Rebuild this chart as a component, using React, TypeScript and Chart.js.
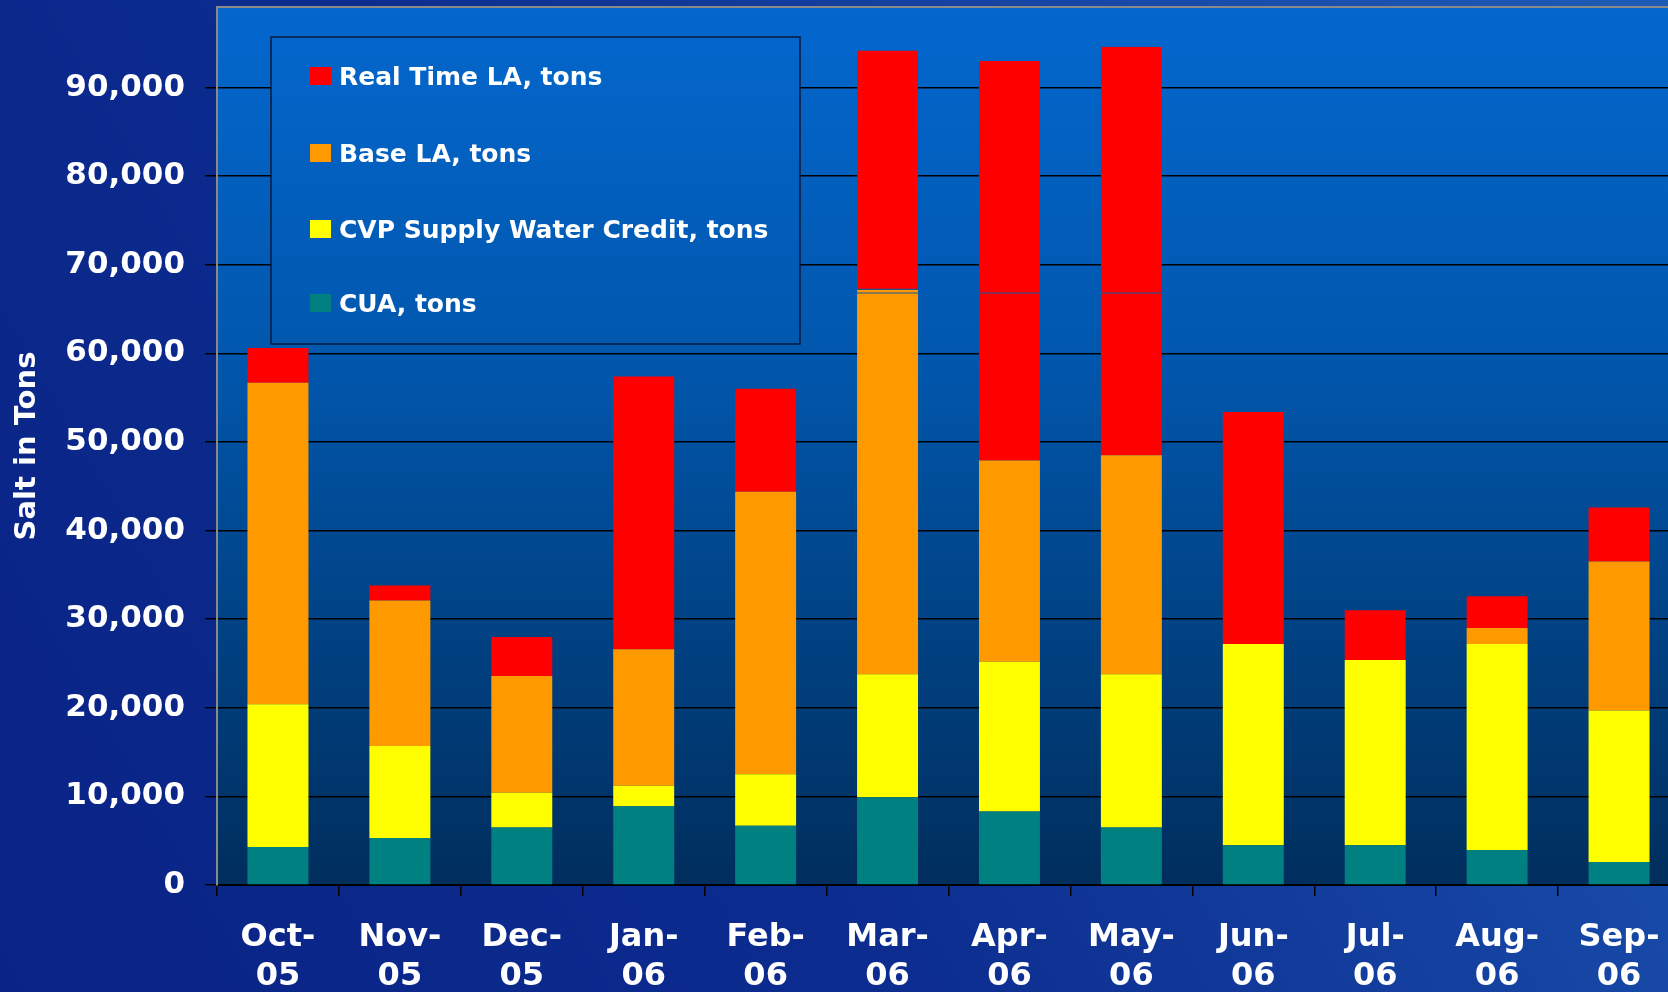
import React, { useEffect, useRef } from 'react';
import { Chart, registerables } from 'chart.js';

Chart.register(...registerables);

// ---- Data ----
const months: string[][] = [
  ['Oct-', '05'], ['Nov-', '05'], ['Dec-', '05'], ['Jan-', '06'], ['Feb-', '06'], ['Mar-', '06'],
  ['Apr-', '06'], ['May-', '06'], ['Jun-', '06'], ['Jul-', '06'], ['Aug-', '06'], ['Sep-', '06'],
];
const cuaTons = [4300, 5300, 6500, 8900, 6700, 9900, 8300, 6500, 4500, 4500, 3950, 2600];
const cvpCreditTons = [16100, 10400, 3900, 2300, 5800, 13900, 16900, 17300, 22700, 20900, 23250, 17100];
const baseLATons = [36300, 16400, 13200, 15400, 31900, 42950, 22700, 24700, 0, 0, 1800, 16800];
const realTimeLATons = [3900, 1700, 4400, 30800, 11600, 0, 18850, 18250, 26200, 5600, 3600, 6100];
// upper pieces of the Mar–May columns (drawn above a thin break line in the original)
const baseLAUpperTons = [null, null, null, null, null, 450, null, null, null, null, null, null];
const realTimeLAUpperTons = [null, null, null, null, null, 27000, 26250, 27850, null, null, null, null];

const yTickValues = [0, 10000, 20000, 30000, 40000, 50000, 60000, 70000, 80000, 90000];
const yMax = 99100;

const COLORS = {
  realTime: '#FF0000',
  base: '#FF9900',
  cvp: '#FFFF00',
  cua: '#008080',
};

const FONT = 'DejaVu Sans';

function plotGradient(ctx: CanvasRenderingContext2D, area: any) {
  const g = ctx.createLinearGradient(0, area.top, 0, area.bottom);
  g.addColorStop(0, '#0467CE');
  g.addColorStop(0.4, '#0157AD');
  g.addColorStop(1, '#002E5D');
  return g;
}

const plotBgPlugin = {
  id: 'plotBg',
  beforeDraw(chart: any) {
    const { ctx, chartArea } = chart;
    ctx.save();
    ctx.fillStyle = plotGradient(ctx, chartArea);
    ctx.fillRect(chartArea.left, chartArea.top, chartArea.right - chartArea.left, chartArea.bottom - chartArea.top);
    ctx.restore();
  },
  afterDraw(chart: any) {
    const { ctx, chartArea } = chart;
    ctx.save();
    ctx.strokeStyle = '#8a8a8a';
    ctx.lineWidth = 2;
    ctx.beginPath();
    ctx.moveTo(chartArea.left, chartArea.top);
    ctx.lineTo(chartArea.right, chartArea.top);
    ctx.stroke();
    ctx.restore();
  },
};

const boxLegendPlugin = {
  id: 'boxLegend',
  afterDraw(chart: any) {
    const { ctx, chartArea } = chart;
    const order = [3, 2, 1, 0];
    const boxX = 271, boxY = 37, boxW = 529, boxH = 307;
    ctx.save();
    ctx.fillStyle = plotGradient(ctx, chartArea);
    ctx.fillRect(boxX, boxY, boxW, boxH);
    ctx.strokeStyle = '#0a1838';
    ctx.lineWidth = 1.5;
    ctx.strokeRect(boxX, boxY, boxW, boxH);
    ctx.font = `bold 25px "${FONT}"`;
    ctx.textBaseline = 'alphabetic';
    ctx.textAlign = 'left';
    const baselines = [85, 162, 238, 312];
    order.forEach((di, i) => {
      const ds = chart.data.datasets[di];
      const b = baselines[i];
      ctx.fillStyle = ds.backgroundColor;
      ctx.fillRect(310, b - 18, 21, 18);
      ctx.fillStyle = '#FFFFFF';
      ctx.fillText(ds.label, 339, b);
    });
    ctx.restore();
  },
};

export default function App() {
  const ref = useRef<HTMLCanvasElement | null>(null);

  useEffect(() => {
    document.body.style.margin = '0';
    document.body.style.overflow = 'hidden';
    const canvas = ref.current;
    if (!canvas) return;
    const upperBorder = { top: 0, left: 0, right: 0, bottom: 1 };
    const chart = new Chart(canvas, {
      type: 'bar',
      data: {
        labels: months,
        datasets: [
          { label: 'CUA, tons', data: cuaTons, backgroundColor: COLORS.cua },
          { label: 'CVP Supply Water Credit, tons', data: cvpCreditTons, backgroundColor: COLORS.cvp },
          { label: 'Base LA, tons', data: baseLATons, backgroundColor: COLORS.base },
          { label: 'Real Time LA, tons', data: realTimeLATons, backgroundColor: COLORS.realTime },
          {
            label: 'Base LA, tons (upper)', data: baseLAUpperTons as any, backgroundColor: COLORS.base,
            borderColor: '#1f4e9c', borderWidth: upperBorder, borderSkipped: false,
          },
          {
            label: 'Real Time LA, tons (upper)', data: realTimeLAUpperTons as any, backgroundColor: COLORS.realTime,
            borderColor: '#1f4e9c', borderWidth: upperBorder, borderSkipped: false,
          },
        ],
      },
      options: {
        responsive: false,
        devicePixelRatio: 1,
        animation: false,
        events: [],
        layout: { padding: { top: 7, left: 0, right: 0, bottom: 0 } },
        datasets: { bar: { barPercentage: 0.5, categoryPercentage: 1.0 } },
        plugins: { legend: { display: false }, tooltip: { enabled: false } },
        scales: {
          x: {
            stacked: true,
            offset: true,
            grid: { offset: true, drawOnChartArea: false, drawTicks: true, tickLength: 11, color: '#000000', lineWidth: 1.5 },
            border: { color: '#000000', width: 2 },
            ticks: {
              color: '#FFFFFF',
              font: { family: FONT, weight: 'bold', size: 32, lineHeight: 1.23 },
              padding: 22,
              maxRotation: 0,
              autoSkip: false,
            },
            afterFit: (s: any) => {
              s.height = 107;
              s.paddingLeft = 0;
              s.paddingRight = 0;
              s.paddingTop = 0;
              s.paddingBottom = 0;
            },
          },
          y: {
            stacked: true,
            min: 0,
            max: yMax,
            afterBuildTicks: (s: any) => { s.ticks = yTickValues.map((v) => ({ value: v })); },
            ticks: {
              color: '#FFFFFF',
              font: { family: FONT, weight: 'bold', size: 31 },
              padding: 20,
              callback: (v: any) => Number(v).toLocaleString('en-US'),
            },
            grid: { color: '#000000', lineWidth: 1.5, tickLength: 12, drawTicks: true },
            border: { color: '#8a8a8a', width: 2 },
            title: {
              display: true,
              text: 'Salt in Tons',
              color: '#FFFFFF',
              font: { family: FONT, weight: 'bold', size: 29 },
              padding: { top: 10, bottom: 0 },
            },
            afterFit: (s: any) => {
              s.width = 217;
              s.paddingTop = 0;
              s.paddingBottom = 0;
              s.paddingLeft = 0;
              s.paddingRight = 0;
            },
          },
        },
      } as any,
      plugins: [plotBgPlugin, boxLegendPlugin],
    });
    return () => chart.destroy();
  }, []);

  return (
    <div
      style={{
        width: 1668,
        height: 992,
        overflow: 'hidden',
        position: 'relative',
        background: 'linear-gradient(60deg, #0a2386 0%, #0c2c8f 40%, #1a50ad 85%, #1c5cb5 100%)',
      }}
    >
      <canvas ref={ref} width={1680} height={992} style={{ display: 'block', width: 1680, height: 992 }} />
    </div>
  );
}
